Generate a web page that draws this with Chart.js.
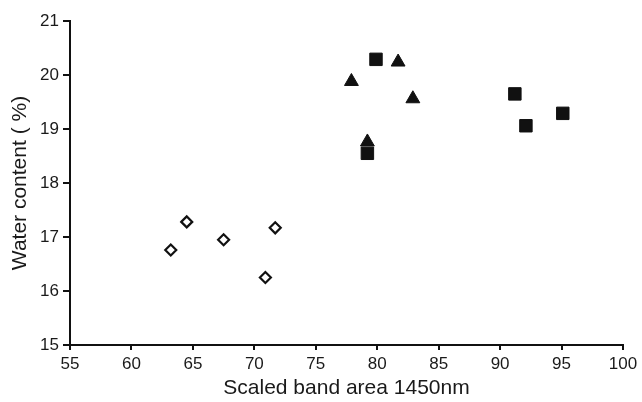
<!DOCTYPE html>
<html>
<head>
<meta charset="utf-8">
<script src="https://cdn.jsdelivr.net/npm/chart.js@4"></script>
<style>
  html, body { margin: 0; padding: 0; background: #fff; }
  canvas { display: block; }
</style>
</head>
<body>
<canvas id="chart" width="642" height="402"></canvas>
<script>
// Measurements: scaled band area (1450 nm) vs. water content (%)
const diamondX = [63.2, 64.5, 67.5, 70.9, 71.7];
const diamondY = [16.76, 17.28, 16.95, 16.25, 17.17];

const triangleX = [77.9, 81.7, 82.9, 79.2];
const triangleY = [19.88, 20.24, 19.56, 18.76];

const squareX = [79.9, 79.2, 91.2, 92.1, 95.1];
const squareY = [20.29, 18.55, 19.65, 19.06, 19.29];

const xTicks = [55, 60, 65, 70, 75, 80, 85, 90, 95, 100];
const yTicks = [15, 16, 17, 18, 19, 20, 21];

const xTitle = 'Scaled band area 1450nm';
const yTitle = 'Water content ( %)';

const toPoints = (xs, ys) => xs.map((x, i) => ({ x: x, y: ys[i] }));

const ink = '#111';
const textInk = '#1a1a1a';
const fontFamily = '"Liberation Sans", Arial, Helvetica, sans-serif';

new Chart(document.getElementById('chart'), {
  type: 'scatter',
  data: {
    datasets: [
      {
        data: toPoints(diamondX, diamondY),
        pointStyle: 'rectRot',
        pointRadius: 5.5,
        pointBorderWidth: 2.2,
        pointBackgroundColor: '#fff',
        pointBorderColor: ink
      },
      {
        data: toPoints(squareX, squareY),
        pointStyle: 'rect',
        pointRadius: 8.8,
        pointBorderWidth: 1,
        pointBackgroundColor: ink,
        pointBorderColor: ink
      },
      {
        data: toPoints(triangleX, triangleY),
        pointStyle: 'triangle',
        pointRadius: 8,
        pointBorderWidth: 1,
        pointBackgroundColor: ink,
        pointBorderColor: ink
      }
    ]
  },
  options: {
    responsive: false,
    animation: false,
    layout: { padding: { top: 21, right: 19, left: 0, bottom: 0 } },
    plugins: {
      legend: { display: false },
      tooltip: { enabled: false }
    },
    scales: {
      x: {
        type: 'linear',
        min: xTicks[0],
        max: xTicks[xTicks.length - 1],
        afterBuildTicks: s => { s.ticks = xTicks.map(v => ({ value: v })); },
        afterFit: s => { s.height = 57; },
        border: { display: true, color: ink, width: 2 },
        grid: { drawOnChartArea: false, drawTicks: true, tickLength: 5, color: ink, lineWidth: 2 },
        ticks: { color: textInk, padding: 4, font: { family: fontFamily, size: 17 } },
        title: {
          display: true,
          text: xTitle,
          color: textInk,
          padding: { top: 2, bottom: 1 },
          font: { family: fontFamily, size: 21 }
        }
      },
      y: {
        type: 'linear',
        min: yTicks[0],
        max: yTicks[yTicks.length - 1],
        afterBuildTicks: s => { s.ticks = yTicks.map(v => ({ value: v })); },
        afterFit: s => { s.width = 70; },
        border: { display: true, color: ink, width: 2 },
        grid: { drawOnChartArea: false, drawTicks: true, tickLength: 7, color: ink, lineWidth: 2 },
        ticks: { color: textInk, padding: 4, font: { family: fontFamily, size: 17 } },
        title: {
          display: true,
          text: yTitle,
          color: textInk,
          padding: { top: 8, bottom: 2 },
          font: { family: fontFamily, size: 21 }
        }
      }
    }
  }
});
</script>
</body>
</html>
